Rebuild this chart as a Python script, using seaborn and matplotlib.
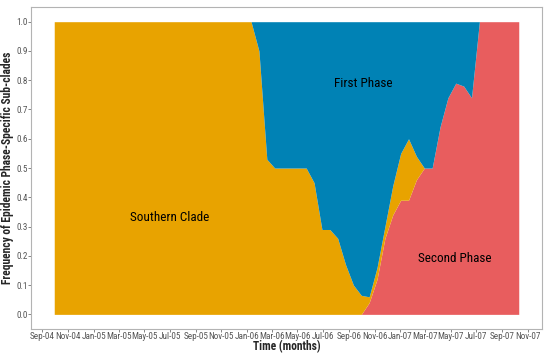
import numpy as np
import pandas as pd
import seaborn as sns
import matplotlib.pyplot as plt
import matplotlib.dates as mdates

# sampling dates (60 points, roughly every 19 days)
dates = pd.date_range("2004-09-29", "2007-10-10", periods=60)

# frequencies of the three sub-clades
southern = [1.0] * 26 + [0.90, 0.53, 0.50, 0.50, 0.50, 0.50, 0.50, 0.45, 0.29, 0.29,
                         0.26, 0.17, 0.10, 0.065, 0.02, 0.04, 0.04, 0.10, 0.16, 0.21,
                         0.08] + [0.0] * 13
first = [0.0] * 26 + [0.10, 0.47, 0.50, 0.50, 0.50, 0.50, 0.50, 0.55, 0.71, 0.71,
                      0.74, 0.83, 0.90, 0.935, 0.94, 0.84, 0.70, 0.56, 0.45, 0.40,
                      0.46, 0.50, 0.50, 0.36, 0.26, 0.21, 0.22, 0.26] + [0.0] * 6
second = [0.0] * 40 + [0.04, 0.12, 0.26, 0.34, 0.39, 0.39, 0.46, 0.50, 0.50, 0.64,
                       0.74, 0.79, 0.78, 0.74, 1.0, 1.0, 1.0, 1.0, 1.0, 1.0]

labels = ["Southern Clade", "First Phase", "Second Phase"]
colors = ["#E8A300", "#0082B5", "#E85D5E"]

sns.set_theme(style="white")
plt.rcParams['font.family'] = ['Roboto Condensed', 'Liberation Sans Narrow', 'Roboto', 'DejaVu Sans']

fig = plt.figure(figsize=(5.5, 3.53), dpi=100)
ax = fig.add_axes([0.0564, 0.068, 0.929, 0.912])

ax.stackplot(dates, second, southern, first,
             colors=[colors[2], colors[0], colors[1]], linewidth=0)

# labels inside the areas
ax.text(pd.Timestamp("2005-07-01"), 0.33, "Southern Clade", ha='center', va='center', fontsize=9.5, color='black')
ax.text(pd.Timestamp("2006-10-04"), 0.79, "First Phase", ha='center', va='center', fontsize=9.5, color='black')
ax.text(pd.Timestamp("2007-05-10"), 0.19, "Second Phase", ha='center', va='center', fontsize=9.5, color='black')

span = dates[-1] - dates[0]
ax.set_xlim(dates[0] - span * 0.05, dates[-1] + span * 0.05)
ax.set_ylim(-0.05, 1.05)
ax.set_yticks(np.arange(0, 1.01, 0.1))
ax.yaxis.set_major_formatter(plt.FormatStrFormatter('%.1f'))
ax.xaxis.set_major_locator(mdates.MonthLocator(bymonth=[1, 3, 5, 7, 9, 11]))
ax.xaxis.set_major_formatter(mdates.DateFormatter('%b-%y'))

ax.tick_params(axis='both', labelsize=6.6, colors='#555555', length=2, width=0.5,
               bottom=True, left=True, pad=0.4)
for s in ax.spines.values():
    s.set_color('#b3b3b3')
    s.set_linewidth(0.8)

ax.set_xlabel("Time (months)", fontsize=8.3, fontweight='bold')
ax.xaxis.set_label_coords(0.5, -0.034)
ax.set_ylabel("Frequency of Epidemic Phase-Specific Sub-clades", fontsize=8.3,
              fontweight='bold', labelpad=1.5)

fig.savefig("out.png", dpi=100)
